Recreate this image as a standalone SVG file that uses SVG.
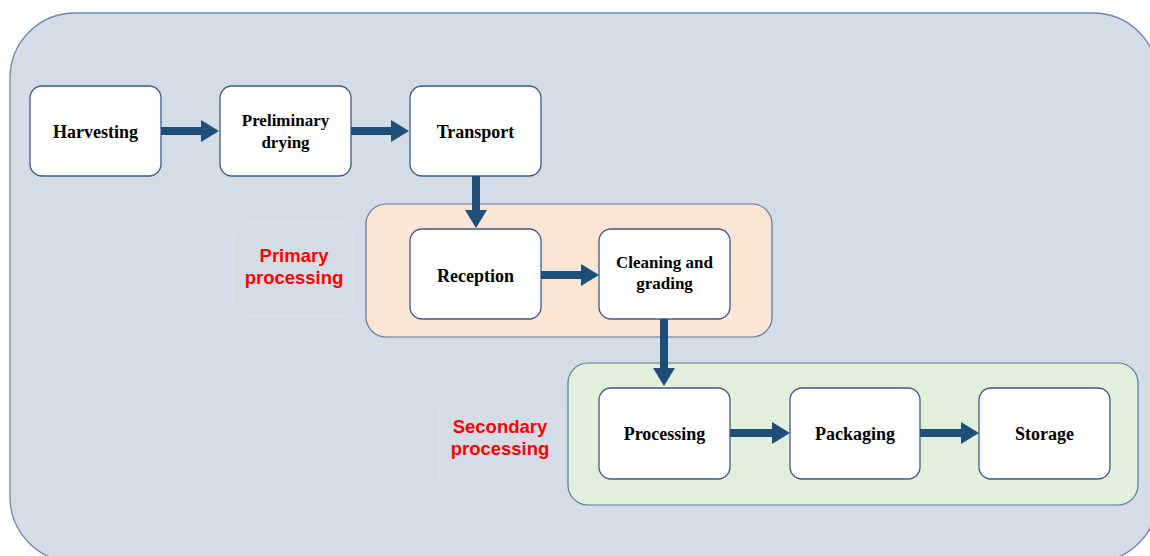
<svg xmlns="http://www.w3.org/2000/svg" width="1150" height="556" viewBox="0 0 1150 556">
<style>
.node rect{fill:#fff;stroke:#3d5a8a;stroke-width:1.3}
.nt{font-family:"Liberation Serif","Times New Roman",serif;font-weight:bold;font-size:18px;fill:#000;text-anchor:middle}
.nt2{font-family:"Liberation Serif","Times New Roman",serif;font-weight:bold;font-size:17px;fill:#000;text-anchor:middle}
.lbl{font-family:"Liberation Sans",Arial,sans-serif;font-weight:bold;font-size:18.5px;fill:#ff0000;text-anchor:middle}
.conn line{stroke:#1f4e79;stroke-width:8}
.conn polygon{fill:#1f4e79}
</style>
<rect x="10" y="13" width="1148" height="549" rx="65" fill="#d6dce5" stroke="#6c86b0" stroke-width="1.3"/>
<g id="primary-group">
<rect x="366" y="204" width="406" height="133" rx="20" fill="#fbe5d6" stroke="#5a77a3" stroke-width="1.2"/>
</g>
<g id="secondary-group">
<rect x="568" y="363" width="570" height="142" rx="20" fill="#e2efda" stroke="#5a77a3" stroke-width="1.2"/>
</g>
<g id="primary-label">
<rect x="233" y="223" width="120" height="93" rx="14" fill="none" stroke="#dde3ec" stroke-width="1"/>
<text class="lbl" x="294" y="262">Primary</text>
<text class="lbl" x="294" y="284">processing</text>
</g>
<g id="secondary-label">
<rect x="439" y="397" width="122" height="91" rx="14" fill="none" stroke="#dde3ec" stroke-width="1"/>
<text class="lbl" x="500" y="433">Secondary</text>
<text class="lbl" x="500" y="455">processing</text>
</g>
<g id="harvesting" class="node"><rect x="30" y="86" width="131" height="90" rx="12"/><text class="nt" x="95.5" y="138">Harvesting</text></g>
<g id="preliminary-drying" class="node"><rect x="220" y="86" width="131" height="90" rx="12"/><text class="nt2" x="285.5" y="126">Preliminary</text><text class="nt2" x="285.5" y="148">drying</text></g>
<g id="transport" class="node"><rect x="410" y="86" width="131" height="90" rx="12"/><text class="nt" x="475.5" y="138">Transport</text></g>
<g id="reception" class="node"><rect x="410" y="229" width="131" height="90" rx="12"/><text class="nt" x="475.5" y="282">Reception</text></g>
<g id="cleaning-grading" class="node"><rect x="599" y="229" width="131" height="90" rx="12"/><text class="nt2" x="664.5" y="268">Cleaning and</text><text class="nt2" x="664.5" y="289">grading</text></g>
<g id="processing" class="node"><rect x="599" y="388" width="131" height="91" rx="12"/><text class="nt" x="664.5" y="440">Processing</text></g>
<g id="packaging" class="node"><rect x="790" y="388" width="130" height="91" rx="12"/><text class="nt" x="855" y="440">Packaging</text></g>
<g id="storage" class="node"><rect x="979" y="388" width="131" height="91" rx="12"/><text class="nt" x="1044.5" y="440">Storage</text></g>
<g id="connectors" class="conn">
<line x1="161" y1="131" x2="202" y2="131"/><polygon points="201,120 219,131 201,142"/>
<line x1="351" y1="131" x2="392" y2="131"/><polygon points="391,120 409,131 391,142"/>
<line x1="476" y1="176" x2="476" y2="212"/><polygon points="465,210 476,228 487,210"/>
<line x1="541" y1="275" x2="582" y2="275"/><polygon points="581,264 599,275 581,286"/>
<line x1="664" y1="319" x2="664" y2="370"/><polygon points="653,368 664,386 675,368"/>
<line x1="730" y1="433" x2="773" y2="433"/><polygon points="772,422 790,433 772,444"/>
<line x1="920" y1="433" x2="962" y2="433"/><polygon points="961,422 979,433 961,444"/>
</g>
</svg>
